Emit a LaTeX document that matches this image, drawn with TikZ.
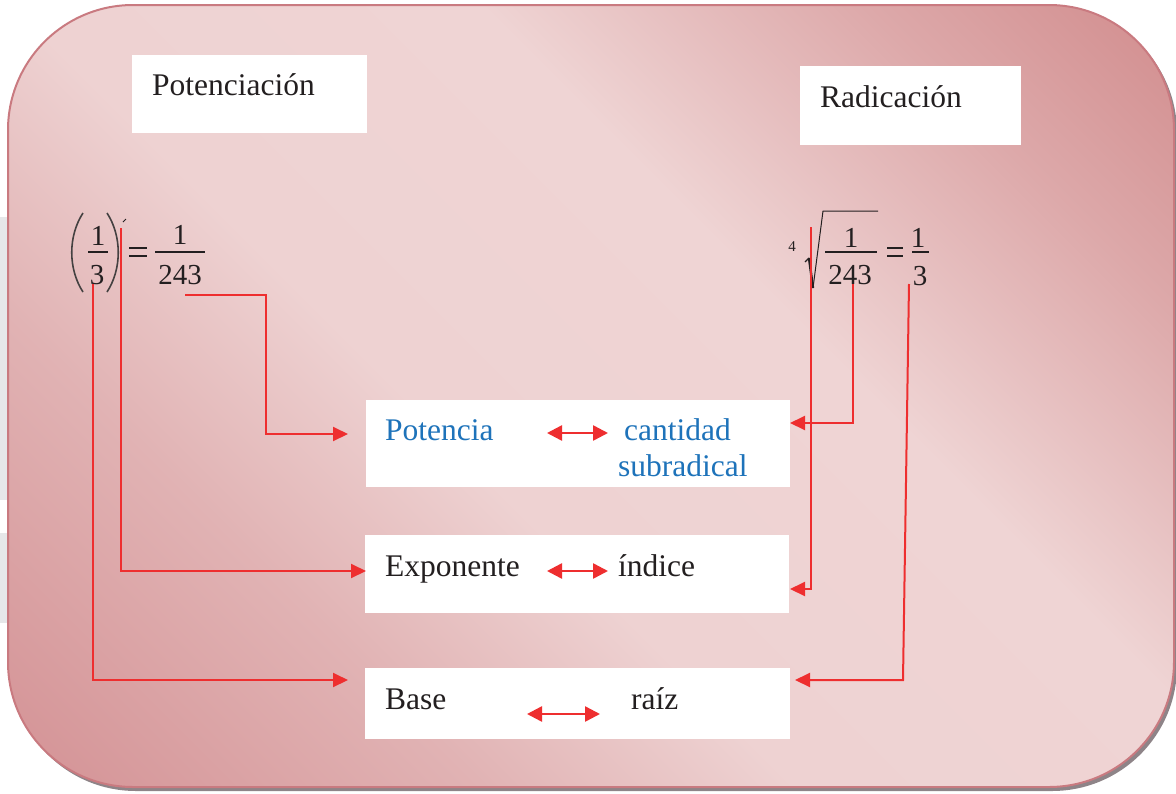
\documentclass[tikz,border=0pt]{standalone}
\usepackage{fontspec}
\setmainfont{Liberation Serif}
\usetikzlibrary{arrows.meta}
\definecolor{ink}{HTML}{231F20}
\definecolor{bluetxt}{HTML}{1E73BA}
\definecolor{arrowred}{HTML}{EE2E2F}
\definecolor{edge}{HTML}{C97A80}
\definecolor{shadowc}{HTML}{8E8488}
\definecolor{wm}{HTML}{E6E7E9}
\definecolor{g0}{HTML}{D39093}
\definecolor{g1}{HTML}{E1B3B4}
\definecolor{g2}{HTML}{EED2D2}
\definecolor{g3}{HTML}{EFD4D4}
\definecolor{g4}{HTML}{DDA9AA}
\definecolor{g5}{HTML}{D18B8C}
\tikzset{
  whitebox/.style={fill=white, draw=none, inner sep=0, anchor=north west},
  lbl/.style={anchor=base west, inner sep=0, font=\fontsize{31.5}{36}\selectfont, text=ink},
  bluelbl/.style={lbl, text=bluetxt},
  dig/.style={anchor=base, inner sep=0, font=\fontsize{29}{33}\selectfont, text=ink},
  conn/.style={draw=arrowred, line width=2pt, -{Triangle[length=15pt,width=14pt]}},
  dbl/.style={draw=arrowred, line width=2.5pt, {Triangle[length=15pt,width=15pt]}-{Triangle[length=15pt,width=15pt]}},
  mathline/.style={draw=ink, line width=1.3pt},
  paren/.style={draw=ink!85, line width=1.6pt},
}
\begin{document}
\begin{tikzpicture}[x=1pt,y=-1pt]
\useasboundingbox (0,0) rectangle (1176,793);
% faint watermark at left edge
\fill[wm] (0,217) rectangle (9,500);
\fill[wm] (0,533) rectangle (9,623);
% shadow
\fill[shadowc, rounded corners=125pt] (11,8) rectangle (1177,791);
% background gradient
\begin{scope}
  \clip[rounded corners=125pt] (8,5) rectangle (1174,787);
  \begin{scope}[transform canvas={rotate around={45:(588,396)}}]
    \shade[left color=g0, right color=g1] (-112,-504) rectangle (239,1296);
    \shade[left color=g1, right color=g2] (238,-504) rectangle (459,1296);
    \shade[left color=g2, right color=g3] (458,-504) rectangle (789,1296);
    \shade[left color=g3, right color=g4] (788,-504) rectangle (1059,1296);
    \shade[left color=g4, right color=g5] (1058,-504) rectangle (1290,1296);
  \end{scope}
\end{scope}
\draw[edge, line width=2pt, rounded corners=125pt] (8,5) rectangle (1174,787);

% title boxes
\node[whitebox, minimum width=235pt, minimum height=78pt] (tpot) at (132,55) {};
\node[lbl] (tpottxt) at (152,95) {Potenciación};
\node[whitebox, minimum width=221pt, minimum height=79pt] (trad) at (800,66) {};
\node[lbl] (tradtxt) at (820,107) {Radicación};

% left formula (1/3)^5 = 1/243
\draw[paren] (83,213) .. controls (68,236) and (68,269) .. (83,292);
\draw[paren] (107,213) .. controls (122,236) and (122,269) .. (107,292);
\node[dig] (la1) at (98,245) {1};
\draw[mathline] (88,252) -- (108,252);
\node[dig] (la3) at (97,284) {3};
\draw[ink, line width=1pt] (123,222) -- (126,219);
\draw[mathline] (129,248) -- (147,248);
\draw[mathline] (129,256) -- (147,256);
\node[dig] (lb1) at (180,244) {1};
\draw[mathline] (155,252) -- (205,252);
\node[dig] (lb243) at (180,284) {243};

% right formula 4th root of 1/243 = 1/3
\node[anchor=base, inner sep=0, font=\fontsize{15}{17}\selectfont, text=ink] (ri4) at (792,251) {4};
\draw[ink, line width=1.2pt] (805,262) -- (809,258);
\draw[ink, line width=2.4pt] (809,258) -- (813,288);
\draw[ink, line width=1pt] (813,288) -- (823,211) -- (878,211);
\node[dig] (ra1) at (851,247) {1};
\draw[mathline] (825,252) -- (877,252);
\node[dig] (ra243) at (850,284) {243};
\draw[mathline] (887,248) -- (903,248);
\draw[mathline] (887,256) -- (903,256);
\node[dig] (rb1) at (918,247) {1};
\draw[mathline] (912,252) -- (929,252);
\node[dig] (rb3) at (920,285) {3};

% correspondence boxes
\node[whitebox, minimum width=424pt, minimum height=87pt] (b1) at (366,400) {};
\node[bluelbl] (potencia) at (385,440) {Potencia};
\node[bluelbl] (cantidad) at (624,440) {cantidad};
\node[bluelbl] (subrad) at (618,476) {subradical};
\coordinate (d1a) at (547,433); \coordinate (d1b) at (608,433);
\draw[dbl] (d1a) -- (d1b);

\node[whitebox, minimum width=424pt, minimum height=78pt] (b2) at (365,535) {};
\node[lbl] (exponente) at (385,576) {Exponente};
\node[lbl] (indice) at (618,576) {índice};
\coordinate (d2a) at (547,571); \coordinate (d2b) at (608,571);
\draw[dbl] (d2a) -- (d2b);

\node[whitebox, minimum width=425pt, minimum height=71pt] (b3) at (365,668) {};
\node[lbl] (base) at (385,709) {Base};
\node[lbl] (raiz) at (631,709) {raíz};
\coordinate (d3a) at (527,714); \coordinate (d3b) at (600,714);
\draw[dbl] (d3a) -- (d3b);

% left connectors
\coordinate (s243) at (185,295);
\coordinate (k243) at (266,295);
\coordinate (tpotl) at (348,434);
\draw[conn] (s243) -- (k243) |- (tpotl);
\coordinate (sexp) at (121,228);
\coordinate (texpl) at (366,571);
\draw[conn] (sexp) |- (texpl);
\coordinate (sbase) at (93,284);
\coordinate (tbasel) at (348,680);
\draw[conn] (sbase) |- (tbasel);

% right connectors
\coordinate (sr243) at (853,284);
\coordinate (tcantr) at (790,423);
\draw[conn] (sr243) |- (tcantr);
\coordinate (sidx) at (811,227);
\coordinate (tidxr) at (790,589);
\draw[conn] (sidx) |- (tidxr);
\coordinate (sr3) at (909,284);
\coordinate (kr3) at (903,680);
\coordinate (traizr) at (795,680);
\draw[conn] (sr3) -- (kr3) -- (traizr);
\end{tikzpicture}
\end{document}
